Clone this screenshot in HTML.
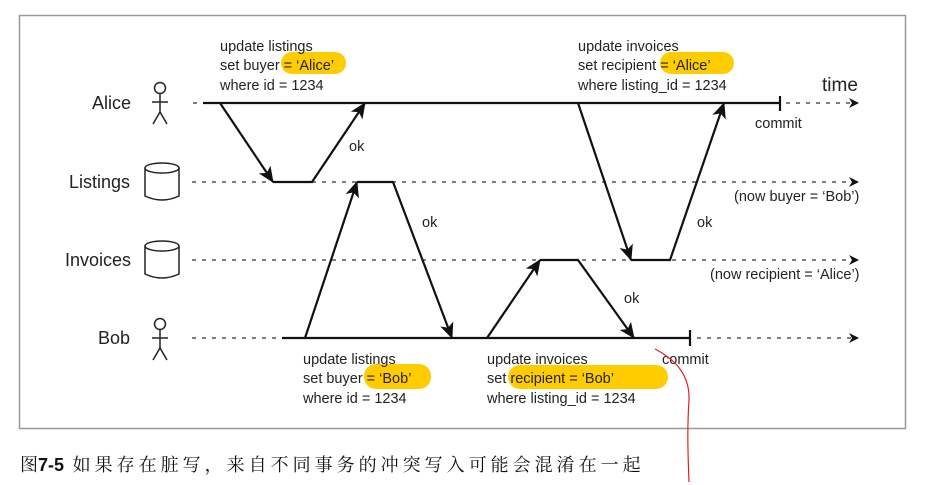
<!DOCTYPE html>
<html><head><meta charset="utf-8"><style>
body{margin:0;background:#fff;width:927px;height:485px;overflow:hidden}
svg{position:absolute;left:0;top:0}
text{font-family:"Liberation Sans","Noto Sans CJK SC",sans-serif;fill:#222}
</style></head><body>
<svg width="927" height="485" viewBox="0 0 927 485">
<defs><marker id="a" markerWidth="10" markerHeight="10" refX="9" refY="5" orient="auto" markerUnits="userSpaceOnUse"><path d="M0,0 L10,5 L0,10 L3,5z" fill="#111"/></marker>
<marker id="b" markerWidth="16" markerHeight="14" refX="15" refY="7" orient="auto" markerUnits="userSpaceOnUse"><path d="M0,0 L16,7 L0,14 L4,7z" fill="#111"/></marker></defs>
<rect x="19.5" y="15.5" width="886" height="413" fill="#fff" stroke="#999" stroke-width="1.5"/>
<rect x="281" y="52" width="65" height="22" rx="11" fill="#fc0"/>
<rect x="660" y="52" width="74" height="22" rx="11" fill="#fc0"/>
<rect x="364" y="364" width="67" height="25" rx="12" fill="#fc0"/>
<rect x="508" y="365" width="160" height="24" rx="12" fill="#fc0"/>
<g stroke="#333" stroke-width="1.3" stroke-dasharray="4,6" fill="none">
<line x1="193" y1="103" x2="203" y2="103"/>
<line x1="786" y1="103" x2="858" y2="103" marker-end="url(#a)"/>
<line x1="192" y1="182" x2="858" y2="182" marker-end="url(#a)"/>
<line x1="192" y1="260" x2="858" y2="260" marker-end="url(#a)"/>
<line x1="192" y1="338" x2="280" y2="338"/>
<line x1="697" y1="338" x2="858" y2="338" marker-end="url(#a)"/>
</g>
<g stroke="#111" stroke-width="2.2" fill="none">
<line x1="203" y1="103" x2="779" y2="103"/>
<line x1="780" y1="96" x2="780" y2="111"/>
<line x1="282" y1="338" x2="690" y2="338"/>
<line x1="690" y1="330" x2="690" y2="346"/>
<path d="M220,103 L273,182" marker-end="url(#b)"/>
<path d="M273,182 L312,182 L365,103" marker-end="url(#b)"/>
<path d="M305,338 L357,182" marker-end="url(#b)"/>
<path d="M357,182 L393,182 L452,338" marker-end="url(#b)"/>
<path d="M487,338 L540,260" marker-end="url(#b)"/>
<path d="M540,260 L578,260 L634,338" marker-end="url(#b)"/>
<path d="M578,103 L631,260" marker-end="url(#b)"/>
<path d="M631,260 L670,260 L724,103" marker-end="url(#b)"/>
</g>
<g stroke="#222" stroke-width="1.5" fill="none">
<circle cx="160" cy="88" r="5.5"/><line x1="160" y1="94" x2="160" y2="112"/><line x1="152" y1="102" x2="168" y2="102"/><path d="M153,124 L160,112 L167,124"/>
<circle cx="160" cy="324" r="5.5"/><line x1="160" y1="330" x2="160" y2="348"/><line x1="152" y1="338" x2="168" y2="338"/><path d="M153,360 L160,348 L167,360"/>
<path d="M145,168 L145,196 Q162,204 179,196 L179,168"/><ellipse cx="162" cy="168" rx="17" ry="5"/>
<path d="M145,246 L145,274 Q162,282 179,274 L179,246"/><ellipse cx="162" cy="246" rx="17" ry="5"/>
</g>
<g font-size="18">
<text x="92" y="109">Alice</text><text x="69" y="188">Listings</text><text x="65" y="266">Invoices</text><text x="98" y="344">Bob</text>
</g>
<text x="822" y="91" font-size="19">time</text>
<g font-size="14.5">
<text x="220" y="51">update listings</text><text x="220" y="70">set buyer = ‘Alice’</text><text x="220" y="90">where id = 1234</text>
<text x="578" y="51">update invoices</text><text x="578" y="70">set recipient = ‘Alice’</text><text x="578" y="90">where listing_id = 1234</text>
<text x="755" y="128">commit</text>
<text x="734" y="201">(now buyer = ‘Bob’)</text>
<text x="710" y="279">(now recipient = ‘Alice’)</text>
<text x="349" y="151">ok</text><text x="422" y="227">ok</text><text x="697" y="227">ok</text><text x="624" y="303">ok</text>
<text x="303" y="364">update listings</text><text x="303" y="383">set buyer = ‘Bob’</text><text x="303" y="403">where id = 1234</text>
<text x="487" y="364">update invoices</text><text x="487" y="383">set recipient = ‘Bob’</text><text x="487" y="403">where listing_id = 1234</text>
<text x="662" y="364">commit</text>
</g>
<text x="20" y="471" font-size="18" style="fill:#111"><tspan style="font-family:'Noto Serif CJK SC','Noto Sans CJK SC',serif">图</tspan><tspan font-weight="bold">7-5</tspan><tspan style="font-family:'Noto Serif CJK SC','Noto Sans CJK SC',serif;letter-spacing:4px"> 如果存在脏写，来自不同事务的冲突写入可能会混淆在一起</tspan></text>
<path d="M655,349 C672,358 690,372 689,400 C687,430 688,455 689,482" stroke="#d22" stroke-width="1.2" fill="none"/>
</svg>
</body></html>
